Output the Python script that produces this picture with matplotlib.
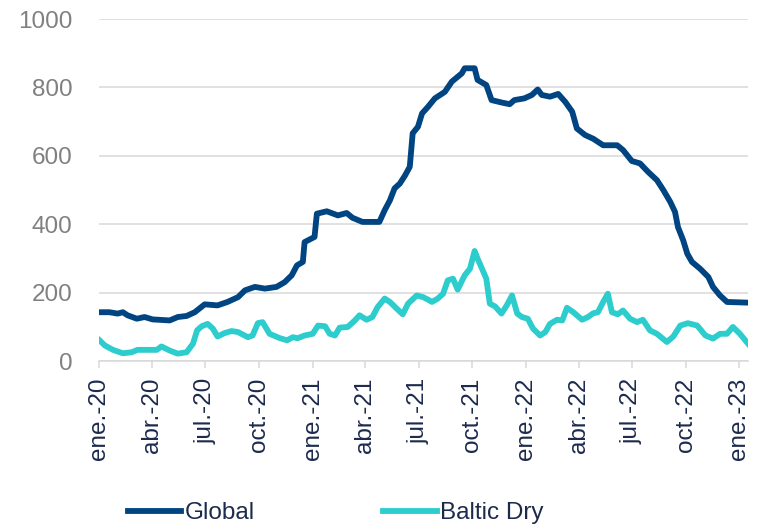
import numpy as np
import pandas as pd
from matplotlib import pyplot as plt

plt.rcParams['font.family'] = ['Liberation Sans', 'DejaVu Sans']

#------------------------------------------------------------
# Data
global_dates = ['2020-01-02', '2020-01-19', '2020-02-02', '2020-02-11', '2020-02-19',
                '2020-03-06', '2020-03-19', '2020-04-02', '2020-05-01', '2020-05-15',
                '2020-05-30', '2020-06-13', '2020-06-30', '2020-07-22', '2020-08-08',
                '2020-08-26', '2020-09-07', '2020-09-24', '2020-10-11', '2020-10-31',
                '2020-11-14', '2020-11-26', '2020-12-05', '2020-12-15', '2020-12-18',
                '2021-01-04', '2021-01-08', '2021-01-25', '2021-02-13', '2021-02-28',
                '2021-03-10', '2021-03-27', '2021-04-25', '2021-05-04', '2021-05-13',
                '2021-05-21', '2021-05-30', '2021-06-08', '2021-06-16', '2021-06-21',
                '2021-06-30', '2021-07-07', '2021-07-17', '2021-07-29', '2021-08-15',
                '2021-08-27', '2021-09-13', '2021-09-18', '2021-10-05', '2021-10-10',
                '2021-10-25', '2021-11-03', '2021-11-20', '2021-12-04', '2021-12-12',
                '2021-12-29', '2022-01-11', '2022-01-21', '2022-01-28', '2022-02-11',
                '2022-02-25', '2022-03-09', '2022-03-21', '2022-03-29', '2022-04-12',
                '2022-04-26', '2022-05-13', '2022-06-06', '2022-06-16', '2022-07-01',
                '2022-07-15', '2022-07-29', '2022-08-13', '2022-08-24', '2022-09-05',
                '2022-09-13', '2022-09-18', '2022-09-27', '2022-10-04', '2022-10-12',
                '2022-10-26', '2022-11-09', '2022-11-17', '2022-11-29', '2022-12-11',
                '2023-01-16']
global_vals = [143, 143, 139, 143, 134, 124, 129, 122, 119, 129,
               132, 143, 166, 163, 173, 187, 207, 217, 212, 217,
               231, 251, 280, 290, 348, 363, 431, 438, 426, 433,
               419, 407, 407, 441, 470, 505, 519, 543, 568, 666,
               685, 724, 743, 768, 787, 817, 841, 856, 856, 822,
               807, 763, 756, 751, 763, 768, 778, 794, 778, 773,
               781, 758, 729, 680, 661, 650, 631, 631, 617, 585,
               578, 553, 529, 500, 465, 436, 392, 353, 314, 290,
               270, 246, 217, 192, 173, 171]

baltic_dates = ['2020-01-02', '2020-01-11', '2020-01-25', '2020-02-11', '2020-02-26',
                '2020-03-07', '2020-04-09', '2020-04-17', '2020-05-01', '2020-05-15',
                '2020-05-30', '2020-06-10', '2020-06-17', '2020-06-25', '2020-07-05',
                '2020-07-14', '2020-07-22', '2020-08-03', '2020-08-15', '2020-08-26',
                '2020-09-12', '2020-09-20', '2020-09-29', '2020-10-07', '2020-10-12',
                '2020-10-19', '2020-11-06', '2020-11-18', '2020-11-28', '2020-12-06',
                '2020-12-18', '2021-01-01', '2021-01-10', '2021-01-22', '2021-01-30',
                '2021-02-08', '2021-02-16', '2021-03-02', '2021-03-14', '2021-03-22',
                '2021-04-03', '2021-04-13', '2021-04-22', '2021-05-04', '2021-05-13',
                '2021-05-25', '2021-06-04', '2021-06-13', '2021-06-28', '2021-07-09',
                '2021-07-17', '2021-07-24', '2021-08-03', '2021-08-12', '2021-08-20',
                '2021-08-29', '2021-09-06', '2021-09-18', '2021-09-27', '2021-10-05',
                '2021-10-10', '2021-10-19', '2021-10-25', '2021-10-31', '2021-11-09',
                '2021-11-20', '2021-11-29', '2021-12-08', '2021-12-17', '2021-12-25',
                '2022-01-04', '2022-01-13', '2022-01-25', '2022-02-03', '2022-02-11',
                '2022-02-23', '2022-03-04', '2022-03-12', '2022-03-23', '2022-04-07',
                '2022-04-17', '2022-04-26', '2022-05-04', '2022-05-13', '2022-05-21',
                '2022-05-28', '2022-06-07', '2022-06-16', '2022-06-28', '2022-07-10',
                '2022-07-20', '2022-08-01', '2022-08-13', '2022-08-30', '2022-09-10',
                '2022-09-22', '2022-10-05', '2022-10-21', '2022-11-04', '2022-11-17',
                '2022-11-29', '2022-12-11', '2022-12-21', '2023-01-02', '2023-01-16']
baltic_vals = [61, 46, 33, 23, 26, 33, 33, 43, 31, 22,
               26, 51, 90, 102, 109, 95, 72, 82, 88, 85,
               70, 75, 111, 114, 100, 80, 67, 61, 70, 67,
               75, 80, 104, 102, 80, 75, 98, 100, 119, 134,
               121, 129, 158, 183, 173, 153, 137, 168, 192, 187,
               180, 173, 183, 197, 236, 241, 209, 251, 270, 322,
               300, 265, 241, 168, 160, 139, 163, 192, 139, 129,
               124, 95, 75, 85, 109, 121, 119, 156, 143, 121,
               129, 140, 143, 173, 197, 143, 137, 148, 124, 114,
               121, 90, 80, 56, 72, 104, 111, 104, 75, 66,
               80, 80, 100, 80, 51]

tick_dates = pd.date_range('2020-01-01', '2023-01-01', freq='QS')
tick_labels = ['ene.-20', 'abr.-20', 'jul.-20', 'oct.-20',
               'ene.-21', 'abr.-21', 'jul.-21', 'oct.-21',
               'ene.-22', 'abr.-22', 'jul.-22', 'oct.-22', 'ene.-23']

#------------------------------------------------------------
# Plot
fig = plt.figure(figsize=(7.61, 5.28), dpi=100)
ax = fig.add_axes([0.130, 0.316, 0.853, 0.648])

ax.plot(pd.to_datetime(global_dates), global_vals, color='#004481', lw=4.2,
        solid_joinstyle='round', label='Global', zorder=3)
ax.plot(pd.to_datetime(baltic_dates), baltic_vals, color='#2dcccd', lw=4.2,
        solid_joinstyle='round', label='Baltic Dry', zorder=3)

ax.set_ylim(0, 1000)
ax.set_yticks(np.arange(0, 1001, 200))
ax.set_xlim(pd.Timestamp('2020-01-01'), pd.Timestamp('2023-01-16'))
ax.set_xticks(tick_dates)
ax.set_xticklabels(tick_labels, rotation=90)

ax.grid(axis='y', color='#d9d9d9', lw=1.1, zorder=0)
ax.set_axisbelow(True)
for s in ['left', 'right', 'top']:
    ax.spines[s].set_visible(False)
ax.spines['bottom'].set_color('#d9d9d9')
ax.spines['bottom'].set_linewidth(1.1)

ax.tick_params(axis='y', length=0, pad=19, labelsize=17.5, labelcolor='#808080')
ax.tick_params(axis='x', length=5, width=1.1, color='#d9d9d9', pad=7,
               labelsize=17.5, labelcolor='#1c2b4d')

fig.legend(loc='center', bbox_to_anchor=(0.441, 0.028), ncol=2, frameon=False,
           fontsize=17.5, handlelength=2.2, handletextpad=0.12, columnspacing=5.3,
           labelcolor='#1c2b4d', borderpad=0)

fig.savefig('out.png', dpi=100)
